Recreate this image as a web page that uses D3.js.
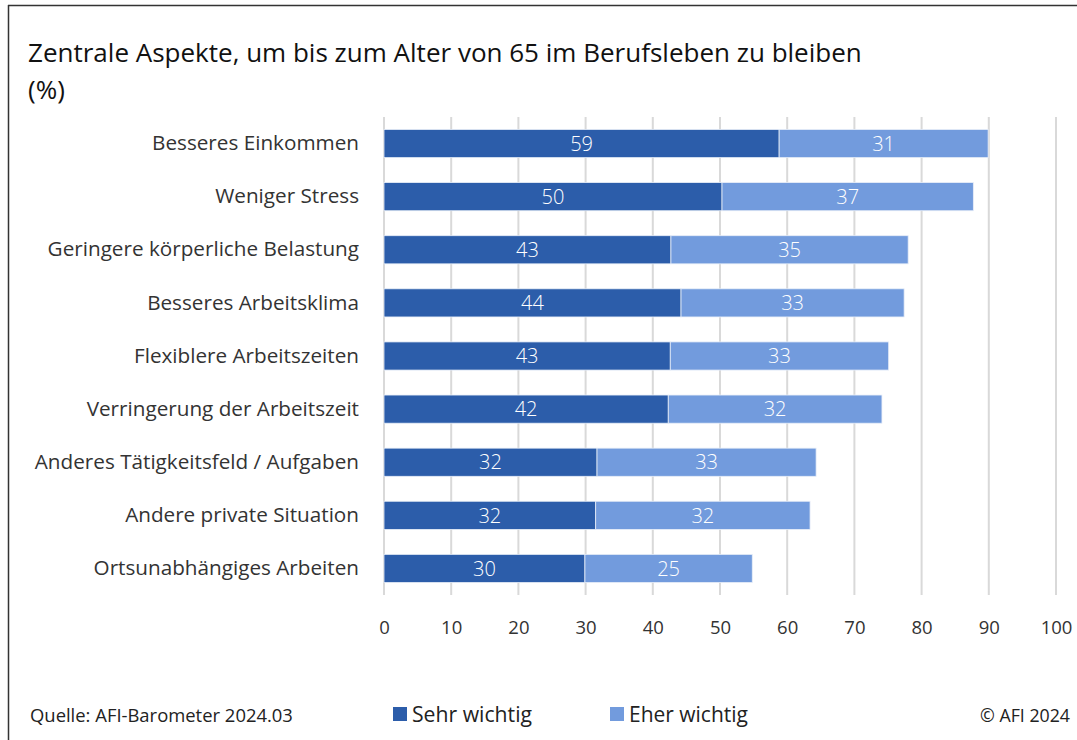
<!DOCTYPE html>
<html>
<head>
<meta charset="utf-8">
<script src="https://cdn.jsdelivr.net/npm/d3@7"></script>
<style>
  html, body { margin: 0; padding: 0; background: #fff; }
  svg { display: block; font-family: "Open Sans", "Noto Sans", sans-serif; }
</style>
</head>
<body>
<svg id="chart" width="1077" height="740"></svg>
<script>
const categories = [
  "Besseres Einkommen",
  "Weniger Stress",
  "Geringere körperliche Belastung",
  "Besseres Arbeitsklima",
  "Flexiblere Arbeitszeiten",
  "Verringerung der Arbeitszeit",
  "Anderes Tätigkeitsfeld / Aufgaben",
  "Andere private Situation",
  "Ortsunabhängiges Arbeiten"
];
const sehrWichtig = [58.8, 50.3, 42.7, 44.2, 42.6, 42.3, 31.7, 31.5, 29.9];
const eherWichtig = [31.1, 37.4, 35.3, 33.2, 32.5, 31.8, 32.6, 31.9, 24.9];
const seriesNames = ["Sehr wichtig", "Eher wichtig"];
const xTicks = [0, 10, 20, 30, 40, 50, 60, 70, 80, 90, 100];
const titleText = "Zentrale Aspekte, um bis zum Alter von 65 im Berufsleben zu bleiben";
const subtitleText = "(%)";
const sourceText = "Quelle: AFI-Barometer 2024.03";
const copyrightText = "© AFI 2024";

const colors = ["#2C5DAA", "#729BDD"];
const svg = d3.select("#chart");

// fit font size of a text element so that its rendered width matches a target width
function fit(sel, target) {
  const node = sel.node();
  const fs = parseFloat(sel.attr("font-size"));
  const w = node.getComputedTextLength();
  if (w > 0) sel.attr("font-size", (fs * target / w).toFixed(2));
  return sel;
}

// frame
svg.append("line").attr("x1", 8).attr("x2", 1077).attr("y1", 5.5).attr("y2", 5.5)
  .attr("stroke", "#333").attr("stroke-width", 1.5);
svg.append("line").attr("x1", 8.5).attr("x2", 8.5).attr("y1", 5).attr("y2", 740)
  .attr("stroke", "#333").attr("stroke-width", 1.5);

// title
const t1 = svg.append("text").attr("x", 28).attr("y", 62).attr("font-size", 24).attr("fill", "#111").text(titleText);
fit(t1, 834);
svg.append("text").attr("x", 28).attr("y", 99).attr("font-size", t1.attr("font-size")).attr("fill", "#111").text(subtitleText);

const x = d3.scaleLinear().domain([0, 100]).range([384, 1056]);
const y = d3.scaleBand().domain(categories).range([117, 595]).paddingInner(0.47).paddingOuter(0.235);

// grid
svg.append("g").selectAll("line").data(xTicks).join("line")
  .attr("x1", d => x(d)).attr("x2", d => x(d))
  .attr("y1", 117).attr("y2", 595)
  .attr("stroke", "#d9d9d9").attr("stroke-width", 2);

// x axis labels
const xAxis = d3.axisBottom(x).tickValues(xTicks).tickSize(0).tickPadding(0);
const gx = svg.append("g").attr("transform", "translate(0,621)").call(xAxis);
gx.select(".domain").remove();
gx.selectAll("text").attr("font-size", 18.5).attr("fill", "#333").attr("font-family", "'Open Sans', sans-serif");

// y axis labels
const yAxis = d3.axisLeft(y).tickSize(0).tickPadding(0);
const gy = svg.append("g").attr("transform", "translate(359,0)").call(yAxis);
gy.select(".domain").remove();
gy.selectAll("text").attr("font-size", 18).attr("fill", "#333").attr("font-family", "'Open Sans', sans-serif");
// scale category labels uniformly using the first label's reference width
{
  const first = gy.select(".tick text");
  const w = first.node().getComputedTextLength();
  const fs = 18 * 207 / w;
  gy.selectAll("text").attr("font-size", fs.toFixed(2));
}

// bars
const rows = categories.map((c, i) => ({ c, a: sehrWichtig[i], b: eherWichtig[i] }));
const segs = [];
rows.forEach(r => {
  segs.push({ c: r.c, x0: 0, x1: r.a, v: r.a, s: 0 });
  segs.push({ c: r.c, x0: r.a, x1: r.a + r.b, v: r.b, s: 1 });
});
svg.append("g").selectAll("rect").data(segs).join("rect")
  .attr("x", d => x(d.x0)).attr("width", d => x(d.x1) - x(d.x0))
  .attr("y", d => y(d.c)).attr("height", y.bandwidth())
  .attr("fill", d => colors[d.s])
  .attr("stroke", "#e8eef8").attr("stroke-width", 0.8);

svg.append("g").selectAll("text").data(segs).join("text")
  .attr("x", d => (x(d.x0) + x(d.x1)) / 2)
  .attr("y", d => y(d.c) + y.bandwidth() / 2)
  .attr("dy", "0.36em")
  .attr("text-anchor", "middle")
  .attr("font-size", 20).attr("font-weight", 300)
  .attr("fill", "#fff")
  .text(d => Math.round(d.v));

// footer
const src = svg.append("text").attr("x", 30).attr("y", 722).attr("font-size", 16).attr("fill", "#222").text(sourceText);
fit(src, 263);
const legendX = [393, 610];
seriesNames.forEach((n, i) => {
  svg.append("rect").attr("x", legendX[i]).attr("y", 707).attr("width", 14).attr("height", 14).attr("fill", colors[i]);
  const lt = svg.append("text").attr("x", legendX[i] + 19).attr("y", 722).attr("font-size", 18).attr("fill", "#222").text(n);
  fit(lt, i === 0 ? 120 : 119);
});
const cp = svg.append("text").attr("x", 1070).attr("y", 722).attr("text-anchor", "end").attr("font-size", 16).attr("fill", "#222").text(copyrightText);
fit(cp, 90);
</script>
</body>
</html>
